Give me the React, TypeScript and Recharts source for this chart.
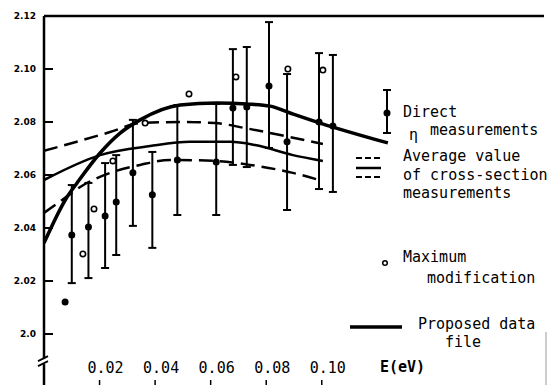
import React from "react";
import {
  ComposedChart,
  Line,
  Scatter,
  ErrorBar,
  XAxis,
  YAxis,
  ReferenceLine,
  ReferenceDot,
} from "recharts";

const FONT = "'DejaVu Sans Mono', 'Liberation Mono', monospace";

// axis ticks
const xTicks = [0.02, 0.04, 0.06, 0.08, 0.1];
const yTicks = [2.0, 2.02, 2.04, 2.06, 2.08, 2.1, 2.12];
const axisBreakAt = 1.9894;

// proposed data file (thick solid)
const proposedE = [0, 0.0083, 0.0119, 0.0202, 0.0274, 0.0346, 0.049, 0.0623, 0.0731, 0.0814, 0.0886, 0.0994, 0.1238];
const proposedV = [2.0343, 2.0517, 2.057, 2.0683, 2.0758, 2.0808, 2.0864, 2.0872, 2.0868, 2.086, 2.0834, 2.0796, 2.0721];

// average of cross-section measurements (thin solid) and its band (dashed)
const avgE = [0, 0.0202, 0.0382, 0.0526, 0.067, 0.076, 0.0896, 0.1004];
const avgV = [2.0581, 2.0675, 2.0709, 2.0725, 2.0725, 2.0713, 2.0675, 2.0653];

const upperE = [0, 0.0238, 0.0346, 0.049, 0.0616, 0.0724, 0.0886, 0.1004];
const upperV = [2.0691, 2.0762, 2.0796, 2.08, 2.0796, 2.0777, 2.0743, 2.0717];

const lowerE = [0, 0.005, 0.0148, 0.0238, 0.0346, 0.0454, 0.0616, 0.0742, 0.0896, 0.1004];
const lowerV = [2.0457, 2.0494, 2.0566, 2.0608, 2.0638, 2.0657, 2.0653, 2.0638, 2.0608, 2.0577];

// direct eta measurements with error bars
const directE = [0.010, 0.016, 0.022, 0.026, 0.032, 0.039, 0.048, 0.062, 0.068, 0.073, 0.081, 0.0875, 0.099, 0.104];
const directV = [2.0374, 2.0404, 2.0445, 2.0498, 2.0608, 2.0525, 2.0657, 2.0649, 2.0853, 2.0857, 2.0936, 2.0725, 2.08, 2.0785];
const directLow = [2.0192, 2.0211, 2.0249, 2.0298, 2.0408, 2.0325, 2.0449, 2.0449, 2.0638, 2.063, 2.0702, 2.0468, 2.0547, 2.0536];
const directHigh = [2.0562, 2.057, 2.0645, 2.0675, 2.0808, 2.0687, 2.0864, 2.0868, 2.1075, 2.1083, 2.1177, 2.0981, 2.106, 2.1053];

// single point without bar
const loneE = [0.0076];
const loneV = [2.0121];

// maximum modification
const maxModE = [0.014, 0.018, 0.0248, 0.0364, 0.0522, 0.0691, 0.0878, 0.1004];
const maxModV = [2.0302, 2.0472, 2.0653, 2.0796, 2.0906, 2.097, 2.1, 2.0996];

const toPts = (es: number[], vs: number[]) => es.map((e, i) => ({ e, v: vs[i] }));

const proposedData = toPts(proposedE, proposedV);
const avgData = toPts(avgE, avgV);
const upperData = toPts(upperE, upperV);
const lowerData = toPts(lowerE, lowerV);
const directData = directE.map((e, i) => ({
  e,
  v: directV[i],
  err: [directV[i] - directLow[i], directHigh[i] - directV[i]],
}));
const loneData = toPts(loneE, loneV);
const maxModData = toPts(maxModE, maxModV);

function YTick({ x, y, payload }: any) {
  const v = payload.value;
  return (
    <g>
      <line x1={x} x2={x + 9} y1={y} y2={y} stroke="#000" strokeWidth={2} />
      <text
        x={x - 8}
        y={y + 3}
        textAnchor="end"
        fontFamily="'DejaVu Sans', sans-serif"
        fontWeight="bold"
        fontSize={9}
        fill="#000"
      >
        {v === 2 ? "2.0" : v.toFixed(2)}
      </text>
    </g>
  );
}

// x ticks sit inside the plot, just above the bottom edge; typed labels sit a bit right of the marks
function XTick({ x, y, payload }: any) {
  return (
    <g>
      <text x={x + 6} y={y - 12} textAnchor="middle" fontFamily={FONT} fontSize={15} fill="#000">
        {payload.value.toFixed(2)}
      </text>
      <line x1={x} x2={x} y1={y - 5} y2={y} stroke="#000" strokeWidth={1.5} />
    </g>
  );
}

const filledDot = (p: any) => <circle cx={p.cx} cy={p.cy} r={3.5} fill="#000" />;
const openDot = (p: any) => <circle cx={p.cx} cy={p.cy} r={2.7} fill="#fff" stroke="#000" strokeWidth={1.6} />;

const breakMark = (p: any) => (
  <g>
    <rect x={p.cx - 3} y={p.cy - 3} width={6} height={5} fill="#fff" />
    <line x1={p.cx - 6} y1={p.cy - 1} x2={p.cx + 4} y2={p.cy - 6} stroke="#000" strokeWidth={1.8} />
    <line x1={p.cx - 6} y1={p.cy + 4} x2={p.cx + 4} y2={p.cy - 1} stroke="#000" strokeWidth={1.8} />
  </g>
);

export default function App() {
  return (
    <div style={{ position: "absolute", left: 0, top: 0, width: 547, height: 385, background: "#fff", overflow: "hidden" }}>
      {/* chart is 20px taller than the window so the x axis band falls below the visible area */}
      <ComposedChart width={547} height={405} margin={{ top: 16, right: 3, left: 0, bottom: 0 }}>
        <XAxis
          type="number"
          dataKey="e"
          domain={[0, 0.18]}
          ticks={xTicks}
          interval={0}
          allowDataOverflow
          axisLine={false}
          tickLine={false}
          tickSize={0}
          tickMargin={0}
          height={20}
          tick={<XTick />}
        />
        <YAxis
          type="number"
          dataKey="v"
          domain={[1.98075, 2.12]}
          ticks={yTicks}
          interval={0}
          allowDataOverflow
          width={44}
          axisLine={{ stroke: "#000", strokeWidth: 2.5 }}
          tickLine={false}
          tickSize={0}
          tickMargin={0}
          tick={<YTick />}
        />
        <ReferenceLine y={2.12} stroke="#000" strokeWidth={2.5} />
        <ReferenceDot x={0} y={axisBreakAt} r={0} ifOverflow="visible" shape={breakMark} />

        <Line data={upperData} dataKey="v" type="monotone" stroke="#000" strokeWidth={2.5} strokeDasharray="14 7" dot={false} activeDot={false} isAnimationActive={false} />
        <Line data={lowerData} dataKey="v" type="monotone" stroke="#000" strokeWidth={2.5} strokeDasharray="14 7" dot={false} activeDot={false} isAnimationActive={false} />
        <Line data={avgData} dataKey="v" type="monotone" stroke="#000" strokeWidth={2.5} dot={false} activeDot={false} isAnimationActive={false} />
        <Line data={proposedData} dataKey="v" type="monotone" stroke="#000" strokeWidth={3.5} dot={false} activeDot={false} isAnimationActive={false} />

        <Scatter data={directData} dataKey="v" shape={filledDot} isAnimationActive={false}>
          <ErrorBar dataKey="err" direction="y" width={4} stroke="#000" strokeWidth={2} isAnimationActive={false} />
        </Scatter>
        <Scatter data={loneData} dataKey="v" shape={filledDot} isAnimationActive={false} />
        <Scatter data={maxModData} dataKey="v" shape={openDot} isAnimationActive={false} />
      </ComposedChart>

      <svg
        width={547}
        height={385}
        style={{ position: "absolute", left: 0, top: 0, pointerEvents: "none" }}
        fontFamily={FONT}
        fontSize={15}
        fill="#000"
      >
        {/* direct measurements */}
        <line x1={387} x2={387} y1={90} y2={133} stroke="#000" strokeWidth={2} />
        <line x1={383} x2={391} y1={90} y2={90} stroke="#000" strokeWidth={2} />
        <line x1={383} x2={391} y1={133} y2={133} stroke="#000" strokeWidth={2} />
        <circle cx={387} cy={113} r={3.5} fill="#000" />
        <text x={403} y={117}>Direct</text>
        <text x={409} y={140}>η</text>
        <text x={430} y={135}>measurements</text>

        {/* average value */}
        <line x1={356} x2={381} y1={158} y2={158} stroke="#000" strokeWidth={2} strokeDasharray="6 3" />
        <line x1={356} x2={381} y1={168} y2={168} stroke="#000" strokeWidth={2.5} />
        <line x1={356} x2={381} y1={177} y2={177} stroke="#000" strokeWidth={2} strokeDasharray="6 3" />
        <text x={403} y={161}>Average value</text>
        <text x={403} y={180}>of cross-section</text>
        <text x={403} y={198}>measurements</text>

        {/* maximum modification */}
        <circle cx={385} cy={263} r={2.3} fill="#fff" stroke="#000" strokeWidth={1.5} />
        <text x={403} y={262}>Maximum</text>
        <text x={427} y={283}>modification</text>

        {/* proposed data file */}
        <line x1={350} x2={402} y1={327} y2={327} stroke="#000" strokeWidth={3.5} />
        <text x={418} y={329}>Proposed data</text>
        <text x={445} y={347}>file</text>

        <text x={380} y={372} fontWeight="bold">E(eV)</text>
        <line x1={546} x2={546} y1={332} y2={385} stroke="#999" strokeWidth={1} />
      </svg>
    </div>
  );
}
